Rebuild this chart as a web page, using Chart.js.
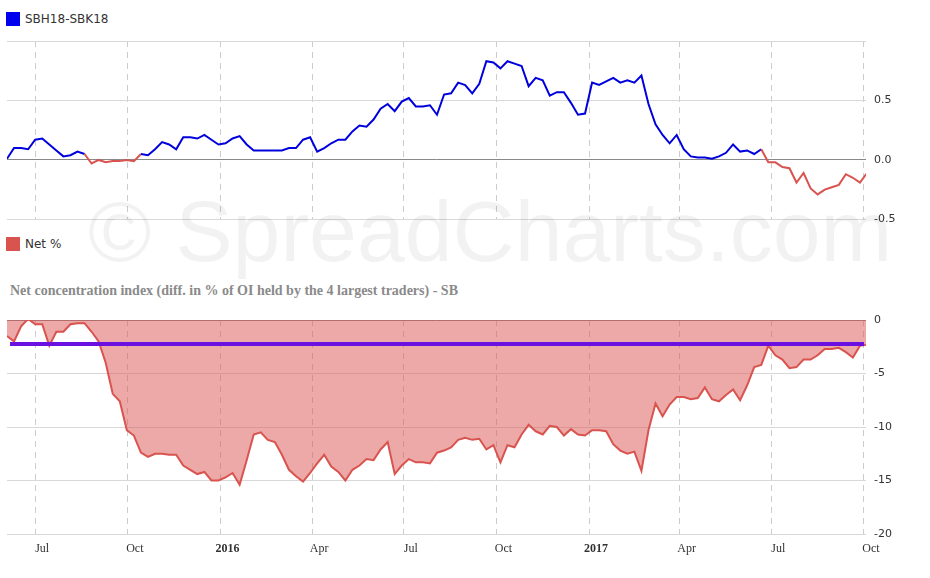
<!DOCTYPE html>
<html><head><meta charset="utf-8">
<script src="https://cdn.jsdelivr.net/npm/chart.js@4/dist/chart.umd.min.js"></script>
<style>
body{margin:0;width:930px;height:578px;background:#fff;position:relative;overflow:hidden;font-family:"DejaVu Sans",sans-serif}
.c{position:absolute;left:0}
.lg{position:absolute;font:12px "DejaVu Sans",sans-serif;color:#333}
.sq{position:absolute;width:14px;height:14px}
#wm{position:absolute;left:88px;top:182px;font:86px "Liberation Sans",sans-serif;color:rgba(0,0,0,0.05);white-space:nowrap;z-index:5;pointer-events:none}
#ttl{position:absolute;left:10px;top:283px;font:bold 14px "Liberation Serif",serif;color:#8a8a8a}
</style></head><body>
<div id="wm">© SpreadCharts.com</div>
<div class="sq" style="left:6px;top:12px;background:#0000ee"></div><div class="lg" style="left:25px;top:12px">SBH18-SBK18</div>
<div class="sq" style="left:6px;top:237px;background:#d9534f"></div><div class="lg" style="left:25px;top:237px">Net %</div>
<div id="ttl">Net concentration index (diff. in % of OI held by the 4 largest traders) - SB</div>
<canvas id="top" class="c" style="top:0" width="930" height="234"></canvas>
<canvas id="bot" class="c" style="top:280px" width="930" height="298"></canvas>
<script>
// days since 2015-06-01, first weekly point
const startDay = 2;
const spreadValues = [0.01,0.10,0.10,0.09,0.17,0.18,0.13,0.08,0.03,0.04,0.07,0.05,-0.03,0.0,-0.02,-0.01,-0.01,0.0,-0.01,0.05,0.04,0.09,0.15,0.13,0.09,0.19,0.19,0.18,0.21,0.17,0.13,0.14,0.18,0.20,0.13,0.08,0.08,0.08,0.08,0.08,0.10,0.10,0.17,0.19,0.07,0.10,0.14,0.17,0.17,0.24,0.29,0.28,0.34,0.43,0.47,0.41,0.49,0.52,0.45,0.45,0.46,0.38,0.55,0.56,0.65,0.63,0.56,0.64,0.83,0.82,0.77,0.83,0.81,0.79,0.62,0.69,0.67,0.54,0.57,0.57,0.48,0.38,0.39,0.65,0.63,0.66,0.69,0.65,0.67,0.65,0.71,0.47,0.30,0.21,0.14,0.21,0.09,0.03,0.02,0.02,0.01,0.03,0.06,0.13,0.07,0.08,0.05,0.09,-0.02,-0.02,-0.06,-0.07,-0.19,-0.11,-0.24,-0.29,-0.25,-0.23,-0.21,-0.12,-0.15,-0.19,-0.11];
const netValues = [-1.5,-2.0,-0.6,0.1,-0.4,-0.4,-2.4,-1.1,-1.1,-0.4,-0.3,-0.3,-1.1,-2.0,-4.0,-6.9,-7.6,-10.3,-10.8,-12.4,-12.8,-12.5,-12.5,-12.6,-12.6,-13.6,-14.0,-14.4,-14.2,-15.0,-15.0,-14.7,-14.3,-15.4,-13.1,-10.7,-10.5,-11.2,-11.4,-12.6,-14.0,-14.6,-15.1,-14.3,-13.4,-12.6,-13.7,-14.2,-15.0,-14.0,-13.6,-13.0,-13.1,-12.1,-11.4,-14.4,-13.6,-13.0,-13.3,-13.3,-13.4,-12.4,-12.2,-11.9,-11.2,-11.0,-11.2,-11.1,-12.1,-11.7,-13.3,-11.7,-11.9,-10.7,-9.8,-10.4,-10.7,-9.9,-10.0,-10.8,-10.2,-10.7,-10.8,-10.3,-10.3,-10.4,-11.6,-12.2,-12.5,-12.3,-14.1,-10.3,-7.8,-9.0,-7.9,-7.2,-7.2,-7.4,-7.3,-6.3,-7.4,-7.6,-7.0,-6.5,-7.5,-6.1,-4.4,-4.2,-2.4,-3.3,-3.7,-4.5,-4.4,-3.7,-3.7,-3.3,-2.7,-2.7,-2.6,-3.0,-3.5,-2.4,-2.3];
const avgDays = [5, 853];
const avgValues = [-2.25, -2.25];
const tickDays = [30,122,214,305,396,488,580,670,761,853];
const tickLabels = ['Jul','Oct','2016','Apr','Jul','Oct','2017','Apr','Jul','Oct'];
const topTicks = [1.0,0.5,0.0,-0.5];
const botTicks = [0,-5,-10,-15,-20];

const days = spreadValues.map((_, i) => startDay + 7 * i);
const spreadPts = spreadValues.map((v, i) => ({x: days[i], y: v}));
const netPts = netValues.map((v, i) => ({x: days[i], y: v}));
const avgPts = avgValues.map((v, i) => ({x: avgDays[i], y: v}));
const RED = '#d9534f', BLUE = '#0000dd';

function xScale(showLabels){
  return {type:'linear', min:2, max:855,
    afterBuildTicks: a => { a.ticks = tickDays.map(v => ({value:v})); },
    afterFit: s => { s.height = showLabels ? 44 : 0; },
    grid:{color:'#cccccc', drawTicks:false, lineWidth:1},
    border:{display:false, dash:[6,5]},
    ticks:{display:showLabels, padding:8, labelOffset:7, maxRotation:0, autoSkip:false, color:'#333',
      callback: v => tickLabels[tickDays.indexOf(v)] ?? '',
      font: c => ({family:'"Liberation Serif",serif', size:12, weight: (c.tick && /^\d{4}$/.test(tickLabels[tickDays.indexOf(c.tick.value)])) ? 'bold' : 'normal'})}};
}
function yScale(min,max,ticks,fmt){
  return {type:'linear', position:'right', min, max,
    afterBuildTicks: a => { a.ticks = ticks.map(v => ({value:v})); },
    afterFit: s => { s.width = 64; },
    border:{display:false},
    grid:{drawTicks:false, color: c => c.tick && c.tick.value === 0 ? '#888' : '#d8d8d8'},
    ticks:{padding:8, color:'#333', font:{family:'"DejaVu Sans",sans-serif', size:11}, callback: fmt}};
}
const common = {responsive:false, animation:false, plugins:{legend:{display:false}, tooltip:{enabled:false}}};

new Chart(document.getElementById('top'), {
  type:'line',
  data:{datasets:[{data:spreadPts, borderColor:BLUE, borderWidth:2, pointRadius:0, tension:0,
    segment:{borderColor: c => (c.p0.parsed.y < 0 || c.p1.parsed.y < 0) ? RED : BLUE}}]},
  options:{...common, layout:{padding:{left:7, right:0, top:41, bottom:0}},
    scales:{x:xScale(false), y:yScale(-0.5,1.0,topTicks, v => v === 1 ? '' : v.toFixed(1))}}
});

new Chart(document.getElementById('bot'), {
  type:'line',
  data:{datasets:[
    {data:netPts, borderColor:RED, borderWidth:2, pointRadius:0, tension:0, fill:'origin', backgroundColor:'rgba(217,83,79,0.5)', order:2},
    {data:avgPts, borderColor:'#6a10e0', borderWidth:4, pointRadius:0, fill:false, order:1}
  ]},
  options:{...common, layout:{padding:{left:7, right:0, top:40, bottom:0}},
    scales:{x:xScale(true), y:yScale(-20,0,botTicks, v => String(v))}}
});
</script></body></html>
